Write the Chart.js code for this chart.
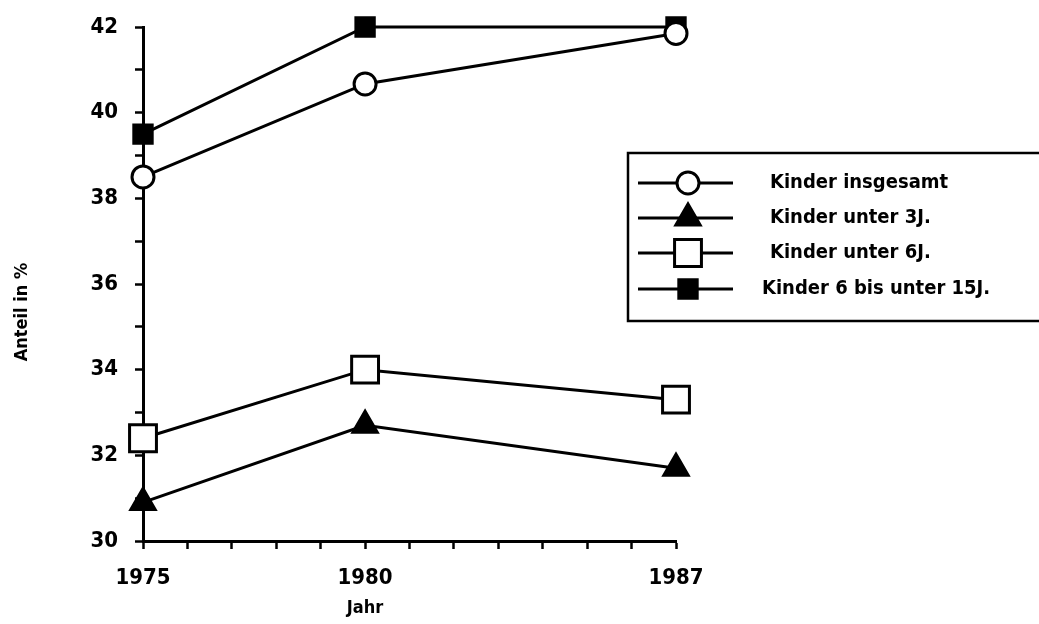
<!DOCTYPE html>
<html>
<head>
<meta charset="utf-8">
<script src="https://cdn.jsdelivr.net/npm/chart.js@4"></script>
<style>
  html, body { margin: 0; padding: 0; background: #fff; }
  #wrap { width: 1039px; height: 624px; }
</style>
</head>
<body>
<div id="wrap"><canvas id="c"></canvas></div>
<script>
// data
const years = [1975, 1980, 1987];
const insgesamt = [38.5, 40.67, 41.85];
const unter3 = [30.9, 32.7, 31.7];
const unter6 = [32.4, 34.0, 33.3];
const sechsBis15 = [39.5, 42.0, 42.0];
const seriesLabels = ['Kinder insgesamt', 'Kinder unter 3J.', 'Kinder unter 6J.', 'Kinder 6 bis unter 15J.'];
const xLabels = [1975, 1980, 1987];
const yLabels = [30, 32, 34, 36, 38, 40, 42];
const xTitle = 'Jahr';
const yTitle = 'Anteil in %';

const FONT = '"DejaVu Sans Condensed", "DejaVu Sans", sans-serif';

function pts(vals) {
    return vals.map((v, i) => ({ x: years[i], y: v }));
}

function series(label, vals, style, radius, fill) {
    return {
        label: label,
        data: pts(vals),
        showLine: true,
        fill: false,
        lineTension: 0,
        borderWidth: 3,
        borderColor: '#000',
        pointStyle: style,
        pointRadius: radius,
        pointBorderWidth: 3,
        pointBorderColor: '#000',
        pointBackgroundColor: fill,
        clip: false,
    };
}

// legend box and axis titles, drawn by hand
const extras = {
    id: 'extras',
    afterDraw(chart) {
        const ctx = chart.ctx;
        const xs = chart.scales.x;
        ctx.save();
        ctx.fillStyle = '#000';
        ctx.font = 'bold 18px ' + FONT;
        ctx.textAlign = 'center';
        ctx.textBaseline = 'middle';
        ctx.fillText(xTitle, xs.getPixelForValue(1980), 608);

        ctx.translate(22, 312);
        ctx.rotate(-Math.PI / 2);
        ctx.fillText(yTitle, 0, 0);
        ctx.restore();

        // legend
        ctx.save();
        ctx.lineWidth = 2.5;
        ctx.strokeStyle = '#000';
        ctx.strokeRect(628, 153, 420, 168);
        const rows = [183, 218, 253, 289];
        const textX = [770, 770, 770, 762];
        chart.data.datasets.forEach((ds, i) => {
            const y = rows[i];
            ctx.lineWidth = 3;
            ctx.strokeStyle = '#000';
            ctx.beginPath();
            ctx.moveTo(638, y);
            ctx.lineTo(733, y);
            ctx.stroke();
            ctx.fillStyle = ds.pointBackgroundColor;
            Chart.helpers.drawPoint(ctx, {
                pointStyle: ds.pointStyle,
                radius: ds.pointRadius,
                borderWidth: ds.pointBorderWidth,
                rotation: 0,
            }, 688, y);
            ctx.fillStyle = '#000';
            ctx.font = 'bold 20px ' + FONT;
            ctx.textAlign = 'left';
            ctx.textBaseline = 'middle';
            ctx.fillText(ds.label, textX[i], y);
        });
        ctx.restore();
    }
};

new Chart(document.getElementById('c'), {
    type: 'scatter',
    data: {
        datasets: [
            series(seriesLabels[0], insgesamt, 'circle', 11, '#fff'),
            series(seriesLabels[1], unter3, 'triangle', 14, '#000'),
            series(seriesLabels[2], unter6, 'rect', 19, '#fff'),
            series(seriesLabels[3], sechsBis15, 'rect', 13, '#000'),
        ],
    },
    options: {
        responsive: true,
        maintainAspectRatio: false,
        animation: false,
        layout: { padding: { top: 27, right: 363, left: 0, bottom: 0 } },
        plugins: {
            legend: { display: false },
            tooltip: { enabled: false },
        },
        scales: {
            x: {
                type: 'linear',
                min: 1975,
                max: 1987,
                afterFit: (s) => { s.height = 83; s.paddingLeft = 0; s.paddingRight = 0; },
                ticks: {
                    stepSize: 1,
                    autoSkip: false,
                    maxRotation: 0,
                    color: '#000',
                    padding: 16,
                    font: { family: FONT, size: 22, weight: 'bold' },
                    callback: (v) => xLabels.includes(v) ? String(v) : '',
                },
                grid: {
                    drawOnChartArea: false,
                    tickLength: 8,
                    tickWidth: 2.5,
                    tickColor: '#000',
                },
                border: { color: '#000', width: 3 },
            },
            y: {
                min: 30,
                max: 42,
                afterFit: (s) => { s.width = 143; s.paddingTop = 0; s.paddingBottom = 0; },
                ticks: {
                    stepSize: 1,
                    autoSkip: false,
                    color: '#000',
                    padding: 17,
                    font: { family: FONT, size: 22, weight: 'bold' },
                    callback: (v) => yLabels.includes(v) ? String(v) : '',
                },
                grid: {
                    drawOnChartArea: false,
                    tickLength: 8,
                    tickWidth: 2.5,
                    tickColor: '#000',
                },
                border: { color: '#000', width: 3 },
            },
        },
    },
    plugins: [extras],
});
</script>
</body>
</html>
